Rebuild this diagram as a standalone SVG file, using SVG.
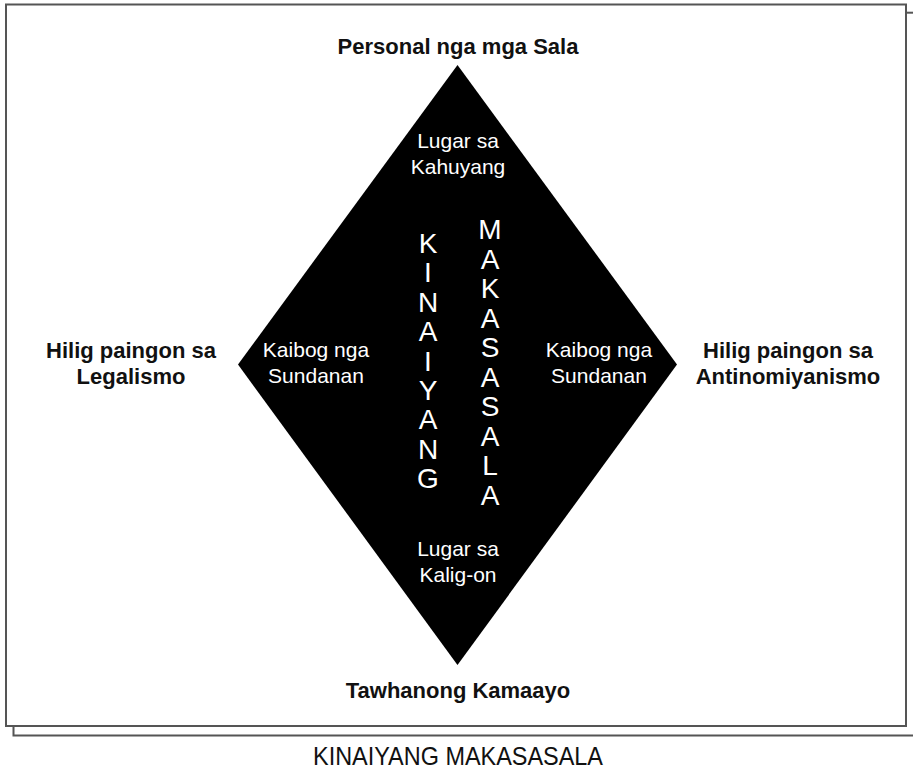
<svg xmlns="http://www.w3.org/2000/svg" width="913" height="773" viewBox="0 0 913 773">
<style>
.frame{fill:none;stroke:#555;stroke-width:2}
.lbl{font-family:"Liberation Sans",Arial,sans-serif;font-size:22px;font-weight:bold;fill:#111;text-anchor:middle}
.in{font-family:"Liberation Sans",Arial,sans-serif;font-size:21px;fill:#fff;text-anchor:middle}
.vert{font-family:"Liberation Sans",Arial,sans-serif;font-size:28px;fill:#fff;text-anchor:middle}
.cap{font-family:"Liberation Sans",Arial,sans-serif;font-size:26px;fill:#111;text-anchor:middle}
</style>
<rect width="913" height="773" fill="#fff"/>
<g id="frame">
<polyline class="frame" points="13.5,726 13.5,735.5 914,735.5"/>
<line class="frame" x1="906" y1="12.7" x2="914" y2="12.7"/>
<rect class="frame" x="6" y="4.5" width="900" height="721.5"/>
</g>
<g id="diamond">
<polygon points="457.5,65 677,364.5 457.5,665 238,364.5" fill="#000"/>
</g>
<g id="connectors"></g>
<g id="top"><text class="lbl" x="458" y="54">Personal nga mga Sala</text></g>
<g id="bottom"><text class="lbl" x="458" y="698">Tawhanong Kamaayo</text></g>
<g id="left"><text class="lbl" x="131" y="358">Hilig paingon sa</text><text class="lbl" x="131" y="384">Legalismo</text></g>
<g id="right"><text class="lbl" x="788" y="358">Hilig paingon sa</text><text class="lbl" x="788" y="384">Antinomiyanismo</text></g>
<g id="kahuyang"><text class="in" x="458" y="148">Lugar sa</text><text class="in" x="458" y="174">Kahuyang</text></g>
<g id="kaligon"><text class="in" x="458" y="556">Lugar sa</text><text class="in" x="458" y="582">Kalig-on</text></g>
<g id="sundanan-left"><text class="in" x="316" y="357">Kaibog nga</text><text class="in" x="316" y="383">Sundanan</text></g>
<g id="sundanan-right"><text class="in" x="599" y="357">Kaibog nga</text><text class="in" x="599" y="383">Sundanan</text></g>
<g id="kinaiyang">
<text class="vert" x="428" y="253">K</text><text class="vert" x="428" y="282.4">I</text><text class="vert" x="428" y="311.8">N</text><text class="vert" x="428" y="341.1">A</text><text class="vert" x="428" y="370.5">I</text><text class="vert" x="428" y="399.9">Y</text><text class="vert" x="428" y="429.3">A</text><text class="vert" x="428" y="458.6">N</text><text class="vert" x="428" y="488">G</text>
</g>
<g id="makasasala">
<text class="vert" x="490" y="239">M</text><text class="vert" x="490" y="268.6">A</text><text class="vert" x="490" y="298.1">K</text><text class="vert" x="490" y="327.7">A</text><text class="vert" x="490" y="357.2">S</text><text class="vert" x="490" y="386.8">A</text><text class="vert" x="490" y="416.3">S</text><text class="vert" x="490" y="445.9">A</text><text class="vert" x="490" y="475.4">L</text><text class="vert" x="490" y="505">A</text>
</g>
<g id="caption"><text class="cap" x="458" y="765" textLength="290" lengthAdjust="spacingAndGlyphs">KINAIYANG MAKASASALA</text></g>
</svg>
